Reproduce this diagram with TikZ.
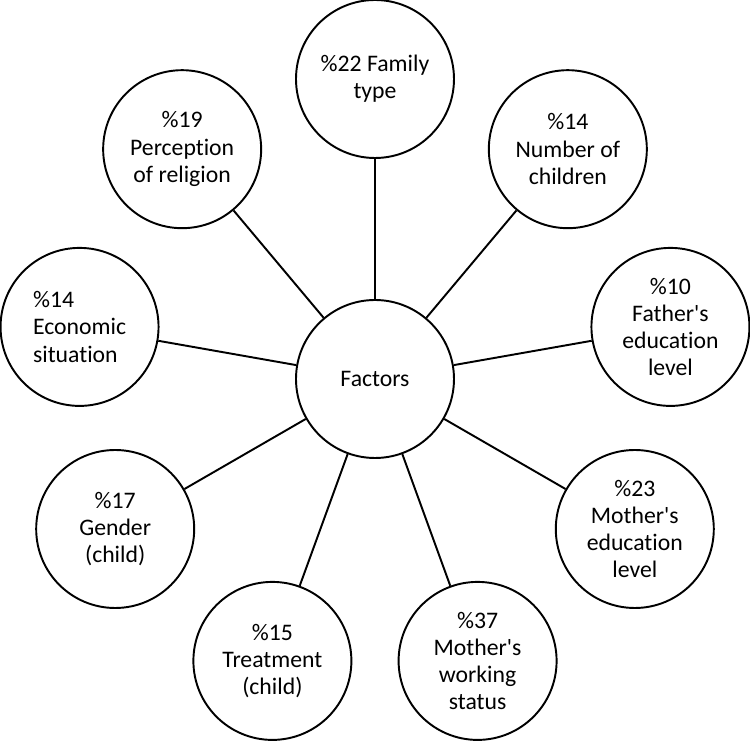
\documentclass[tikz,border=0pt]{standalone}
\usepackage{fontspec}
\setmainfont{Carlito}[Ligatures={TeX,NoCommon}]
\usepackage{tikz}
\tikzset{
  factor/.style={draw,circle,line width=1.1pt,minimum size=3.16cm,inner sep=0pt,
    align=center,font=\fontsize{13.5}{15.5}\selectfont},
  link/.style={line width=1.1pt}
}

\begin{document}
\begin{tikzpicture}
  \useasboundingbox (-7.5,-7.26) rectangle (7.5,7.58);
  \node[factor] (factors) at (0,0) {Factors};
  \node[factor] (family) at (90:6) {\%22 Family\\type};
  \node[factor] (children) at (50:6) {\%14\\Number of\\children};
  \node[factor] (father) at (10:6) {\%10\\Father\textquotesingle s\\education\\level};
  \node[factor] (mothered) at (-30:6) {\%23\\Mother\textquotesingle s\\education\\level};
  \node[factor] (motherwork) at (-70:6) {\%37\\Mother\textquotesingle s\\working\\status};
  \node[factor] (treatment) at (-110:6) {\%15\\Treatment\\(child)};
  \node[factor] (gender) at (-150:6) {\%17\\Gender\\(child)};
  \node[factor,align=left] (economic) at (170:6) {\%14\\Economic\hspace*{0.28cm}\\situation};
  \node[factor] (religion) at (130:6) {\%19\\Perception\\of religion};
  \draw[link] (factors) -- (family);
  \draw[link] (factors) -- (children);
  \draw[link] (factors) -- (father);
  \draw[link] (factors) -- (mothered);
  \draw[link] (factors) -- (motherwork);
  \draw[link] (factors) -- (treatment);
  \draw[link] (factors) -- (gender);
  \draw[link] (factors) -- (economic);
  \draw[link] (factors) -- (religion);
\end{tikzpicture}
\end{document}
